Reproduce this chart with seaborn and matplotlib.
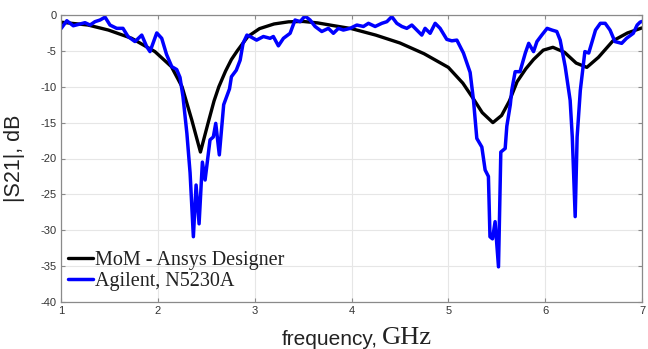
import matplotlib
matplotlib.use("Agg")
import matplotlib.pyplot as plt
import seaborn as sns
import numpy as np

# ---- data ----
mom_freq = [1.00, 1.28, 1.49, 1.73, 1.97, 2.14, 2.25, 2.35, 2.44, 2.52, 2.58, 2.63,
            2.70, 2.76, 2.82, 2.93, 3.05, 3.20, 3.35, 3.50, 3.65, 3.80, 4.00, 4.25, 4.50,
            4.75, 5.00, 5.15, 5.25, 5.35, 5.46, 5.55, 5.63, 5.71, 5.80, 5.88,
            5.98, 6.08, 6.20, 6.32, 6.43, 6.55, 6.70, 6.85, 7.00]
mom_db = [-1.0, -1.4, -2.1, -3.25, -5.1, -7.2, -10.0, -14.6, -19.1, -15.0, -12.0, -10.0,
          -7.8, -6.2, -5.0, -3.0, -1.9, -1.25, -0.95, -0.9, -1.1, -1.45, -1.9, -2.8, -3.9,
          -5.4, -7.3, -9.5, -11.5, -13.6, -15.0, -14.0, -12.0, -9.3, -7.5, -6.2,
          -4.9, -4.5, -5.2, -6.7, -7.3, -5.9, -3.6, -2.5, -1.8]

vna_freq = [1.000, 1.060, 1.127, 1.248, 1.300, 1.351, 1.403, 1.455, 1.506, 1.575,
            1.640, 1.692, 1.764, 1.834, 1.885, 1.919, 1.989, 2.040, 2.090, 2.144,
            2.195, 2.229, 2.260, 2.300, 2.333, 2.367, 2.395, 2.426, 2.460, 2.488,
            2.539, 2.573, 2.598, 2.635, 2.680, 2.740, 2.760, 2.810, 2.850, 2.880,
            2.920, 2.953, 3.020, 3.090, 3.159, 3.193, 3.245, 3.297, 3.366, 3.417,
            3.469, 3.520, 3.572, 3.624, 3.693, 3.761, 3.813, 3.865, 3.916, 3.986,
            4.055, 4.123, 4.175, 4.244, 4.313, 4.365, 4.416, 4.468, 4.520, 4.571,
            4.623, 4.675, 4.726, 4.760, 4.812, 4.864, 4.915, 4.984, 5.036, 5.088,
            5.156, 5.225, 5.260, 5.294, 5.346, 5.380, 5.414, 5.430, 5.456, 5.483,
            5.518, 5.542, 5.587, 5.604, 5.640, 5.655, 5.690, 5.740, 5.795, 5.830,
            5.880, 5.915, 5.965, 6.020, 6.070, 6.120, 6.155, 6.207, 6.258, 6.280,
            6.310, 6.330, 6.363, 6.400, 6.410, 6.450, 6.480, 6.520, 6.570, 6.620,
            6.670, 6.720, 6.790, 6.840, 6.910, 6.950, 6.980, 7.000]
vna_db = [-1.9, -0.8, -1.5, -1.07, -1.4, -0.93, -0.7, -0.3, -1.4, -1.86,
          -1.86, -3.0, -3.7, -2.8, -4.4, -5.1, -2.5, -3.25, -5.5, -7.2,
          -7.6, -8.7, -11.4, -16.5, -22.0, -30.9, -23.7, -29.1, -20.5, -23.0,
          -17.4, -17.0, -15.1, -19.5, -12.5, -10.3, -8.6, -7.7, -6.3, -3.95,
          -2.8, -3.0, -3.5, -3.0, -3.25, -3.0, -4.3, -3.25, -2.55, -0.7,
          -0.93, -0.14, -0.7, -1.6, -2.3, -1.86, -2.55, -1.86, -2.1, -1.86,
          -1.4, -1.6, -1.16, -1.6, -1.16, -0.93, -0.23, -1.16, -1.6, -1.86,
          -1.4, -2.1, -2.8, -1.86, -2.55, -1.16, -1.86, -3.4, -3.6, -3.5,
          -5.3, -8.0, -11.9, -17.2, -18.4, -21.6, -22.5, -30.9, -31.2, -28.8,
          -35.1, -19.1, -18.6, -15.5, -12.5, -10.5, -7.9, -7.9, -5.3, -3.95,
          -5.1, -3.7, -2.8, -1.86, -2.1, -2.3, -3.5, -7.2, -11.9, -17.0,
          -28.1, -17.0, -10.5, -6.3, -5.1, -5.3, -3.95, -2.1, -1.16, -1.16,
          -2.1, -3.7, -3.95, -3.25, -2.55, -1.4, -1.0, -0.9]

series_labels = ["MoM - Ansys Designer", "Agilent, N5230A"]
x_ticks = [1, 2, 3, 4, 5, 6, 7]
y_ticks = [0, -5, -10, -15, -20, -25, -30, -35, -40]

# ---- style ----
sns.set_style("whitegrid")
plt.rcParams["font.family"] = ["Liberation Sans", "DejaVu Sans"]

fig = plt.figure(figsize=(6.48, 3.49), dpi=100)
ax = fig.add_axes([61 / 648, 1 - 302 / 349, (642 - 61) / 648, (302 - 15) / 349])

sns.lineplot(x=mom_freq, y=mom_db, ax=ax, color="black", lw=2.4,
             label=series_labels[0], sort=False, estimator=None)
sns.lineplot(x=vna_freq, y=vna_db, ax=ax, color="#0000ff", lw=2.5,
             label=series_labels[1], sort=False, estimator=None)

ax.set_xlim(1, 7)
ax.set_ylim(-40, 0)
ax.set_xticks(x_ticks)
ax.set_yticks(y_ticks)
ax.set_xticklabels([str(v) for v in x_ticks])
ax.set_yticklabels([str(v) for v in y_ticks])

ax.grid(True, color="#e6e6e6", lw=0.8)
for s in ax.spines.values():
    s.set_visible(True)
    s.set_color("#8a8a8a")
    s.set_linewidth(0.9)
ax.tick_params(axis="both", which="both", direction="in", length=3, width=0.8,
               color="#8a8a8a", labelsize=8, labelcolor="#333333",
               top=True, right=True, bottom=True, left=True,
               labeltop=False, labelright=False, pad=3)

ax.set_ylabel("|S21|, dB", fontsize=15.5, color="#222222")
ax.yaxis.set_label_coords(-0.062, 0.5)
ax.set_xlabel("frequency,", fontsize=15, color="#222222")
ax.xaxis.set_label_coords(0.462, -0.098)
ax.annotate("GHz", xy=(1, 0), xycoords=ax.xaxis.label, xytext=(3, 3.4),
            textcoords="offset points", ha="left", va="baseline",
            fontsize=19, family="Liberation Serif", color="#222222")

leg = ax.legend(loc="lower left", bbox_to_anchor=(0.005, 0.025), frameon=False,
                prop={"family": "Liberation Serif", "size": 14.5},
                handlelength=1.25, handletextpad=0.08, labelspacing=0.1,
                borderpad=0.2, borderaxespad=0)
for t in leg.get_texts():
    t.set_color("#222222")

fig.savefig("out.png", dpi=100)
